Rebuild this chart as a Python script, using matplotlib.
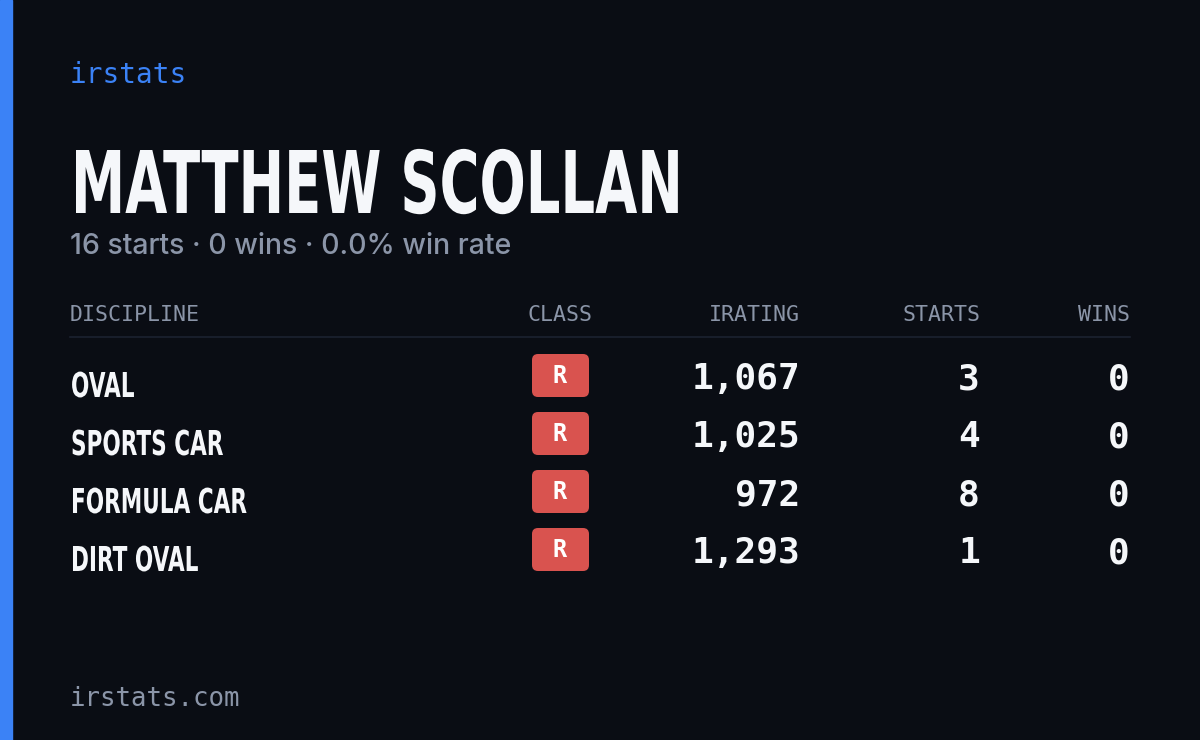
import matplotlib
matplotlib.use('Agg')
import matplotlib.pyplot as plt
from matplotlib.patches import FancyBboxPatch, Rectangle, PathPatch
from matplotlib.textpath import TextPath
from matplotlib.font_manager import FontProperties
from matplotlib.transforms import Affine2D

disciplines = ['OVAL', 'SPORTS CAR', 'FORMULA CAR', 'DIRT OVAL']
classes = ['R', 'R', 'R', 'R']
iratings = [1067, 1025, 972, 1293]
starts = [3, 4, 8, 1]
wins = [0, 0, 0, 0]

BG = '#0a0d14'
BLUE = '#3b82f6'
GRAY = '#8b95a8'
WHITE = '#f5f7fa'
RED = '#d9534f'
MONO = 'DejaVu Sans Mono'
BOLD = FontProperties(family='DejaVu Sans', weight='bold')
CAP = TextPath((0, 0), 'H', size=100, prop=BOLD).get_extents().height


def narrow_text(ax, x, baseline, s, cap_px, squeeze=0.63):
    # condensed bold caps drawn as a squeezed path
    path = TextPath((0, 0), s, size=100, prop=BOLD)
    sy = cap_px / CAP
    tr = Affine2D().scale(sy * squeeze, -sy).translate(x, baseline)
    ax.add_patch(PathPatch(tr.transform_path(path), facecolor=WHITE, edgecolor='none'))


fig = plt.figure(figsize=(12, 7.4), dpi=100)
fig.patch.set_facecolor(BG)
ax = fig.add_axes([0, 0, 1, 1])
ax.set_xlim(0, 1200)
ax.set_ylim(740, 0)
ax.axis('off')

ax.add_patch(Rectangle((0, 0), 12, 740, color=BLUE))

ax.text(70, 75, 'irstats', color=BLUE, fontsize=20, family=MONO, va='center')
narrow_text(ax, 71, 213, 'MATTHEW SCOLLAN', 63)
total_starts = sum(starts)
total_wins = sum(wins)
ax.text(70, 246, f'{total_starts} starts \u00b7 {total_wins} wins \u00b7 '
        f'{100 * total_wins / total_starts:.1f}% win rate',
        color=GRAY, fontsize=20.5, family=['Inter', 'DejaVu Sans'], fontweight='medium',
        va='center')

hy = 315
hs = 15.5
ax.text(70, hy, 'DISCIPLINE', color=GRAY, fontsize=hs, family=MONO, va='center')
ax.text(560, hy, 'CLASS', color=GRAY, fontsize=hs, family=MONO, va='center', ha='center')
ax.text(800, hy, 'IRATING', color=GRAY, fontsize=hs, family=MONO, va='center', ha='right')
ax.text(980, hy, 'STARTS', color=GRAY, fontsize=hs, family=MONO, va='center', ha='right')
ax.text(1130, hy, 'WINS', color=GRAY, fontsize=hs, family=MONO, va='center', ha='right')
ax.plot([70, 1130], [337, 337], color='#1c2230', lw=1.2)

for i, (d, c, ir, s, w) in enumerate(zip(disciplines, classes, iratings, starts, wins)):
    y = 379 + i * 58
    narrow_text(ax, 71, y + 18, d, 25)
    ax.add_patch(FancyBboxPatch((532, y - 25), 57, 43, boxstyle='round,pad=0,rounding_size=6',
                                facecolor=RED, edgecolor='none'))
    ax.text(560, y - 3, c, color='white', fontsize=17, family=MONO, fontweight='bold',
            va='center', ha='center')
    ax.text(800, y, f'{ir:,}', color=WHITE, fontsize=26, family=MONO, fontweight='bold',
            va='center', ha='right')
    ax.text(980, y, str(s), color=WHITE, fontsize=26, family=MONO, fontweight='bold',
            va='center', ha='right')
    ax.text(1130, y, str(w), color=WHITE, fontsize=26, family=MONO, fontweight='bold',
            va='center', ha='right')

ax.text(70, 699, 'irstats.com', color=GRAY, fontsize=18.5, family=MONO, va='center')

fig.savefig('out.png', dpi=100, facecolor=fig.get_facecolor())
